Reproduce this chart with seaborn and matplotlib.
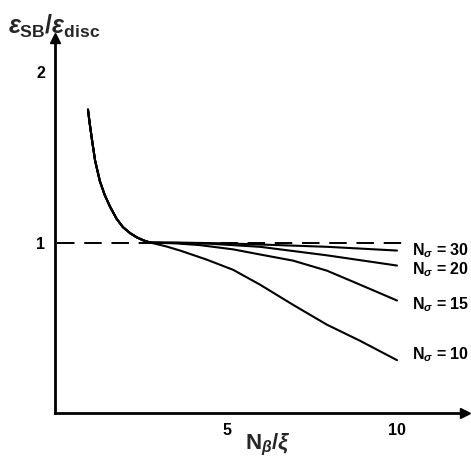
import matplotlib
matplotlib.use("Agg")
import matplotlib.pyplot as plt
import seaborn as sns
import pandas as pd

# ---- data ----
common_x = [0.91, 0.96, 1.03, 1.12, 1.26, 1.40, 1.56, 1.75, 1.94, 2.15, 2.35, 2.55, 2.74]
common_y = [1.78, 1.70, 1.60, 1.48, 1.36, 1.28, 1.21, 1.14, 1.09, 1.055, 1.03, 1.012, 1.00]

n10_x = [3.2, 3.62, 4.4, 5.18, 5.97, 6.94, 7.94, 8.91, 10.0]
n10_y = [0.978, 0.953, 0.90, 0.84, 0.753, 0.635, 0.518, 0.424, 0.31]

n15_x = [3.5, 4.2, 5.18, 5.97, 6.94, 7.94, 8.91, 10.0]
n15_y = [0.995, 0.985, 0.96, 0.93, 0.894, 0.835, 0.753, 0.66]

n20_x = [3.5, 4.5, 5.97, 7.94, 10.0]
n20_y = [0.998, 0.993, 0.975, 0.925, 0.865]

n30_x = [3.5, 5.0, 6.5, 7.94, 10.0]
n30_y = [1.0, 0.995, 0.985, 0.975, 0.953]

series_labels = ["10", "15", "20", "30"]
ref_x = [0.0, 10.3]
ref_y = [1.0, 1.0]

x_ticks = [5, 10]
y_ticks = [1, 2]

# ---- build table ----
rows = []
for lab, xs, ys in zip(series_labels, [n10_x, n15_x, n20_x, n30_x],
                       [n10_y, n15_y, n20_y, n30_y]):
    for x, y in zip(common_x + xs, common_y + ys):
        rows.append({"x": x, "y": y, "N": lab})
df = pd.DataFrame(rows)

sns.set_style("white")
plt.rcParams["font.family"] = ["Liberation Sans", "DejaVu Sans"]
plt.rcParams["mathtext.fontset"] = "custom"
plt.rcParams["mathtext.rm"] = "Liberation Sans:bold"
plt.rcParams["mathtext.it"] = "Liberation Sans:italic:bold"
plt.rcParams["mathtext.bf"] = "Liberation Sans:bold"

fig = plt.figure(figsize=(4.71, 4.70), dpi=100)
ax = fig.add_axes([55 / 471, 57 / 470, 410 / 471, 375 / 470])

sns.lineplot(data=df, x="x", y="y", units="N", estimator=None, color="black",
             linewidth=1.5, sort=False, ax=ax, legend=False)
ax.plot(ref_x, ref_y, color="black", linewidth=1.4, dashes=(9, 5))

ax.set_xlim(-0.06, 12)
ax.set_ylim(0, 2.2)
for s in ["top", "right"]:
    ax.spines[s].set_visible(False)
for s in ["left", "bottom"]:
    ax.spines[s].set_linewidth(2.0)
    ax.spines[s].set_color("black")

ax.plot(1, 0, ">k", markersize=7, transform=ax.transAxes, clip_on=False)
ax.plot(0, 1, "^k", markersize=7, transform=ax.transAxes, clip_on=False)

ax.set_xticks(x_ticks)
ax.set_yticks(y_ticks)
ax.set_xticklabels([str(t) for t in x_ticks], fontweight="bold")
ax.set_yticklabels([str(t) for t in y_ticks], fontweight="bold")
ax.tick_params(direction="in", length=7, width=1.8, labelsize=11.5,
               color="black", labelcolor="black", pad=7)
ax.set_xlabel("")
ax.set_ylabel("")

end_y = {"30": 0.955, "20": 0.84, "15": 0.635, "10": 0.34}
for lab in series_labels:
    ax.text(10.45, end_y[lab], r"N$_{\sigma}$ = " + lab, fontsize=11.5,
            fontweight="bold", va="center", ha="left", color="black",
            clip_on=False)

fig.text(268 / 471, 1 - 445 / 470, r"N$_{\beta}$/$\xi$", fontsize=16,
         fontweight="bold", ha="center", va="center")
fig.text(8 / 471, 1 - 26 / 470,
         r"$\varepsilon_{\mathrm{SB}}/\varepsilon_{\mathrm{disc}}$",
         fontsize=18, ha="left", va="center")

fig.savefig("out.png", dpi=100)
